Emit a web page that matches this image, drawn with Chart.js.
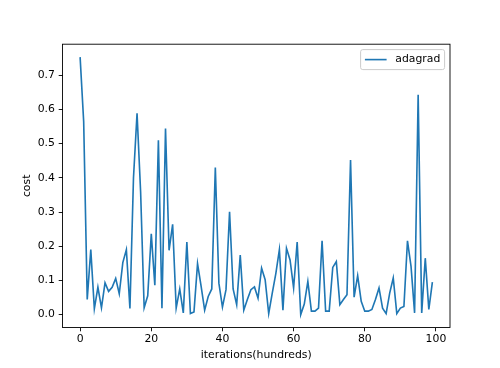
<!DOCTYPE html>
<html>
<head>
<meta charset="utf-8">
<script src="https://cdn.jsdelivr.net/npm/chart.js@4.4.0/dist/chart.umd.min.js"></script>
<style>
  html, body { margin: 0; padding: 0; background: #fff; }
  #wrap { width: 500px; height: 368px; }
</style>
</head>
<body>
<div id="wrap"><canvas id="costChart" width="500" height="368"></canvas></div>
<script>
// iteration index (hundreds)
const iterations = Array.from({ length: 100 }, (_, i) => i);

const cost = [
  0.753, 0.565, 0.044, 0.19, 0.017, 0.08, 0.02, 0.093, 0.068, 0.08,
  0.106, 0.061, 0.152, 0.19, 0.018, 0.40, 0.589, 0.36, 0.02, 0.055,
  0.236, 0.086, 0.51, 0.019, 0.544, 0.188, 0.264, 0.019, 0.075, 0.005,
  0.212, 0.003, 0.008, 0.149, 0.083, 0.013, 0.053, 0.075, 0.43, 0.092,
  0.022, 0.073, 0.301, 0.075, 0.029, 0.174, 0.013, 0.044, 0.073, 0.081,
  0.048, 0.136, 0.102, 0.003, 0.063, 0.12, 0.19, 0.013, 0.194, 0.16,
  0.078, 0.212, 0.0, 0.031, 0.097, 0.01, 0.01, 0.019, 0.216, 0.01,
  0.01, 0.138, 0.155, 0.029, 0.044, 0.058, 0.452, 0.051, 0.114, 0.039,
  0.01, 0.01, 0.015, 0.044, 0.078, 0.019, 0.003, 0.063, 0.107, 0.003,
  0.019, 0.024, 0.216, 0.141, 0.005, 0.643, 0.005, 0.165, 0.015, 0.095
];

const xTicks = [0, 20, 40, 60, 80, 100];
const yTicks = [0.0, 0.1, 0.2, 0.3, 0.4, 0.5, 0.6, 0.7];
const seriesName = "adagrad";

const FONT = "DejaVu Sans";
const FS = 10.85;
const BLUE = "#1f77b4";

// frame + legend, drawn matplotlib style
const frameAndLegend = {
  id: "frameAndLegend",
  afterDraw(chart) {
    const { ctx, chartArea: a } = chart;
    ctx.save();
    ctx.strokeStyle = "#000";
    ctx.lineWidth = 0.9;
    ctx.strokeRect(a.left, a.top, a.right - a.left, a.bottom - a.top);

    // legend box
    const bx = 360.6, by = 49.6, bw = 84, bh = 20;
    ctx.beginPath();
    ctx.roundRect(bx, by, bw, bh, 2.2);
    ctx.fillStyle = "rgba(255,255,255,0.8)";
    ctx.fill();
    ctx.strokeStyle = "#cccccc";
    ctx.lineWidth = 1;
    ctx.stroke();

    ctx.beginPath();
    ctx.moveTo(bx + 4.3, by + bh / 2);
    ctx.lineTo(bx + 26, by + bh / 2);
    ctx.strokeStyle = BLUE;
    ctx.lineWidth = 1.63;
    ctx.stroke();

    ctx.fillStyle = "#000";
    ctx.font = FS + "px '" + FONT + "'";
    ctx.textBaseline = "middle";
    ctx.textAlign = "left";
    ctx.fillText(seriesName, bx + 34.7, by + bh / 2);
    ctx.restore();
  }
};

const ctx = document.getElementById("costChart").getContext("2d");

new Chart(ctx, {
  type: "line",
  data: {
    labels: iterations,
    datasets: [{
      label: seriesName,
      data: cost,
      borderColor: BLUE,
      borderWidth: 1.63,
      pointRadius: 0,
      tension: 0,
      fill: false
    }]
  },
  options: {
    responsive: false,
    animation: false,
    devicePixelRatio: 1,
    layout: { padding: { top: 44.2, right: 50, bottom: 0, left: 0 } },
    plugins: {
      legend: { display: false },
      tooltip: { enabled: false }
    },
    scales: {
      x: {
        type: "linear",
        min: -4.95,
        max: 103.95,
        afterBuildTicks: (scale) => { scale.ticks = xTicks.map(v => ({ value: v })); },
        afterFit: (scale) => { scale.height = 40.5; },
        border: { display: false },
        grid: { drawOnChartArea: false, drawTicks: true, tickLength: 3.8, color: "#000", lineWidth: 0.9 },
        ticks: {
          color: "#000",
          padding: 1,
          maxRotation: 0,
          font: { family: FONT, size: FS },
          callback: (v) => String(v)
        },
        title: {
          display: true,
          text: "iterations(hundreds)",
          color: "#000",
          padding: { top: 0, bottom: 6.5 },
          font: { family: FONT, size: FS }
        }
      },
      y: {
        min: -0.0377,
        max: 0.7907,
        afterBuildTicks: (scale) => { scale.ticks = yTicks.map(v => ({ value: v })); },
        afterFit: (scale) => { scale.width = 62.5; },
        border: { display: false },
        grid: { drawOnChartArea: false, drawTicks: true, tickLength: 3.8, color: "#000", lineWidth: 0.9 },
        ticks: {
          color: "#000",
          padding: 3.8,
          font: { family: FONT, size: FS },
          callback: (v) => Number(v).toFixed(1)
        },
        title: {
          display: true,
          text: "cost",
          color: "#000",
          padding: { top: 21, bottom: 0 },
          font: { family: FONT, size: FS }
        }
      }
    }
  },
  plugins: [frameAndLegend]
});
</script>
</body>
</html>
